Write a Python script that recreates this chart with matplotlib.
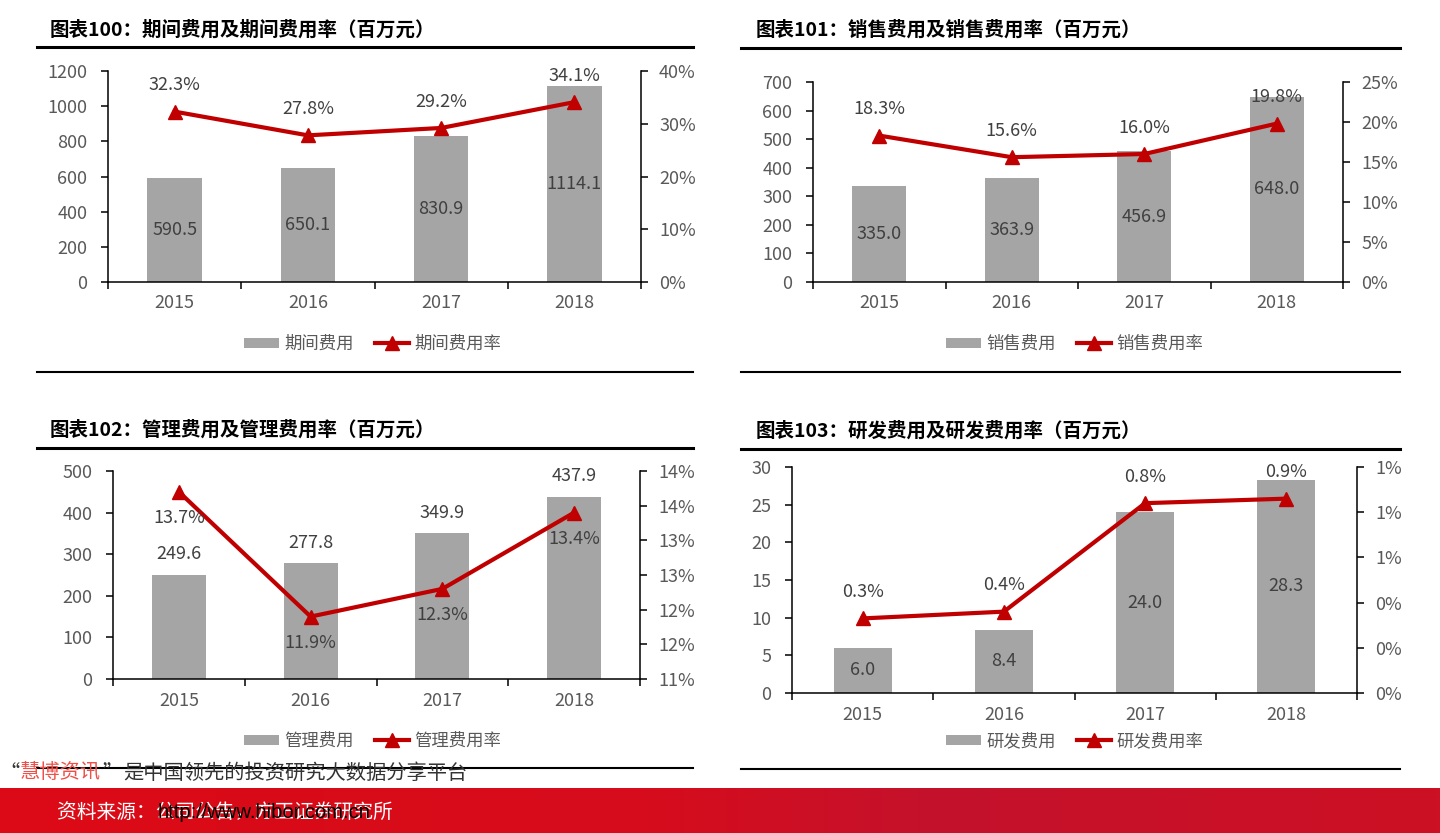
import matplotlib
matplotlib.use("Agg")
import matplotlib.pyplot as plt
import numpy as np
from matplotlib.lines import Line2D
from matplotlib.patches import Patch

plt.rcParams['font.family'] = ['Noto Sans CJK SC', 'DejaVu Sans']

W, H = 1440, 833

# --- 数据 ---
years = ['2015', '2016', '2017', '2018']

period_cost = [590.5, 650.1, 830.9, 1114.1]   # 期间费用
period_rate = [32.3, 27.8, 29.2, 34.1]        # 期间费用率 %
sales_cost = [335.0, 363.9, 456.9, 648.0]     # 销售费用
sales_rate = [18.3, 15.6, 16.0, 19.8]
admin_cost = [249.6, 277.8, 349.9, 437.9]     # 管理费用
admin_rate = [13.7, 11.9, 12.3, 13.4]
rd_cost = [6.0, 8.4, 24.0, 28.3]              # 研发费用
rd_rate = [0.33, 0.36, 0.84, 0.86]

r_ticks_100 = [0, 10, 20, 30, 40]
r_labels_100 = ['0%', '10%', '20%', '30%', '40%']
r_ticks_101 = [0, 5, 10, 15, 20, 25]
r_labels_101 = ['0%', '5%', '10%', '15%', '20%', '25%']
r_ticks_102 = [11, 11.5, 12, 12.5, 13, 13.5, 14]
r_labels_102 = ['11%', '12%', '12%', '13%', '13%', '14%', '14%']
r_ticks_103 = [0, 0.2, 0.4, 0.6, 0.8, 1.0]
r_labels_103 = ['0%', '0%', '0%', '1%', '1%', '1%']

BAR_C = '#A5A5A5'; LINE_C = '#C00000'; TXT_C = '#595959'; LBL_C = '#404040'


def fx(x): return x / W
def fy(y): return 1 - y / H


def hline(fig, x0, x1, y, lw):
    fig.add_artist(Line2D([fx(x0), fx(x1)], [fy(y), fy(y)], color='black', lw=lw))


def panel(fig, box, title, tpos, cost, rate, ymax, ystep, rlim, rticks, rlabels,
          names, bar_mode, rate_mode, leg_pos, frame_x, frame_y):
    l, t, r, b = box
    ax = fig.add_axes([fx(l), fy(b), (r - l) / W, (b - t) / H])
    x = np.arange(len(years))
    ax.bar(x, cost, width=0.41, color=BAR_C, zorder=2)
    ax.set_xlim(-0.5, 3.5); ax.set_ylim(0, ymax)
    yt = np.arange(0, ymax + 1e-9, ystep)
    ax.set_yticks(yt, ['%g' % v for v in yt])
    ax.set_xticks(x, years)
    ax.set_xticks(np.arange(-0.5, 4, 1), minor=True)
    ax.tick_params(axis='x', which='major', length=0, pad=9, labelsize=13, labelcolor=TXT_C)
    ax.tick_params(axis='x', which='minor', length=5, width=1.1, direction='out')
    ax.tick_params(axis='y', length=5, width=1.1, pad=10, labelsize=13, labelcolor=TXT_C)
    for s in ['top', 'right']: ax.spines[s].set_visible(False)
    for s in ['left', 'bottom']: ax.spines[s].set_linewidth(1.1)

    ax2 = ax.twinx()
    ax2.plot(x, rate, color=LINE_C, lw=3, marker='^', ms=10, zorder=3)
    ax2.set_ylim(*rlim)
    ax2.set_yticks(rticks, rlabels)
    ax2.tick_params(axis='y', length=5, width=1.1, pad=8, labelsize=13, labelcolor=TXT_C)
    for s in ['top', 'left', 'bottom']: ax2.spines[s].set_visible(False)
    ax2.spines['right'].set_linewidth(1.1)

    for i, v in enumerate(cost):
        if bar_mode == 'center':
            ax.annotate('%.1f' % v, (i, v / 2), ha='center', va='center', fontsize=13, color=LBL_C, zorder=4)
        else:
            ax.annotate('%.1f' % v, (i, v), xytext=(0, 15), textcoords='offset points',
                        ha='center', va='center', fontsize=13, color=LBL_C)
    off = 19 if rate_mode == 'above' else -19
    for i, v in enumerate(rate):
        ax2.annotate('%.1f%%' % v, (i, v), xytext=(0, off), textcoords='offset points',
                     ha='center', va='center', fontsize=13, color=LBL_C, zorder=5)

    handles = [Patch(fc=BAR_C), Line2D([], [], color=LINE_C, lw=3, marker='^', ms=10)]
    fig.legend(handles, names, loc='center', bbox_to_anchor=(fx(leg_pos[0]), fy(leg_pos[1])),
               ncol=2, frameon=False, fontsize=12.5, labelcolor=TXT_C, handlelength=2.0,
               handleheight=0.5, handletextpad=0.3, columnspacing=1.2)

    fig.text(fx(tpos[0]), fy(tpos[1]), title, fontsize=14, fontweight='bold', ha='left', va='center')
    hline(fig, frame_x[0], frame_x[1], frame_y[0], 2.2)
    hline(fig, frame_x[0], frame_x[1], frame_y[1], 1.5)


fig = plt.figure(figsize=(W / 100, H / 100), dpi=100)

panel(fig, (108, 71, 641, 282), '图表100：期间费用及期间费用率（百万元）', (50, 30),
      period_cost, period_rate, 1200, 200, (0, 40), r_ticks_100, r_labels_100,
      ['期间费用', '期间费用率'], 'center', 'above', (373, 344), (37, 693), (47, 372))
panel(fig, (813, 82, 1343, 282), '图表101：销售费用及销售费用率（百万元）', (756, 30),
      sales_cost, sales_rate, 700, 100, (0, 25), r_ticks_101, r_labels_101,
      ['销售费用', '销售费用率'], 'center', 'above', (1075, 344), (741, 1400), (48, 372))
panel(fig, (113, 471, 640, 679), '图表102：管理费用及管理费用率（百万元）', (50, 430),
      admin_cost, admin_rate, 500, 100, (11, 14), r_ticks_102, r_labels_102,
      ['管理费用', '管理费用率'], 'above', 'below', (373, 741), (37, 693), (448, 768))
panel(fig, (792, 467, 1357, 693), '图表103：研发费用及研发费用率（百万元）', (756, 431),
      rd_cost, rd_rate, 30, 5, (0, 1.0), r_ticks_103, r_labels_103,
      ['研发费用', '研发费用率'], 'center', 'above', (1075, 741), (741, 1400), (449, 769))

# --- 底部红色条 ---
bax = fig.add_axes([0, 0, 1, 45 / H])
stops = np.array([0, 0.45, 0.65, 1.0])
cols = np.array([[220, 10, 22], [214, 12, 28], [196, 18, 44], [205, 16, 36]]) / 255
pos = np.linspace(0, 1, 400)
grad = np.stack([np.interp(pos, stops, cols[:, k]) for k in range(3)], axis=-1)[None, :, :]
bax.imshow(grad, aspect='auto', extent=[0, 1, 0, 1])
bax.axis('off')

fig.text(fx(57), fy(812), '资料来源：公司公告，方正证券研究所', color='white', fontsize=14.2,
         style='italic', ha='left', va='center')
fig.text(fx(158), fy(812), 'http://www.hibor.com.cn', color='black', fontsize=14.5,
         family=['Liberation Sans', 'DejaVu Sans'], ha='left', va='center')

# 水印文字
fig.text(fx(20), fy(773), '“', color='#333333', fontsize=14.6, ha='right', va='center')
fig.text(fx(20), fy(773), '慧博资讯', color='#F0504A', fontsize=14.6, ha='left', va='center')
fig.text(fx(102), fy(773), '”', color='#333333', fontsize=14.6, ha='left', va='center')
fig.text(fx(123), fy(773), '是中国领先的投资研究大数据分享平台', color='#333333', fontsize=14.6,
         ha='left', va='center')

fig.savefig('out.png', dpi=100)
